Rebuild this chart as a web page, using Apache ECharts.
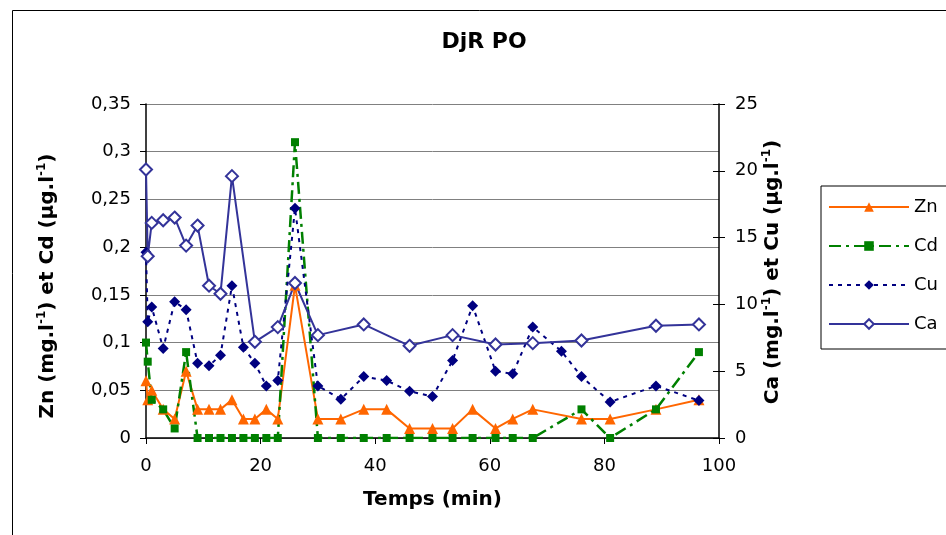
<!DOCTYPE html>
<html>
<head>
<meta charset="utf-8">
<script src="https://cdn.jsdelivr.net/npm/echarts@6/dist/echarts.min.js"></script>
<style>
html,body{margin:0;padding:0;background:#fff;}
#chart{width:946px;height:535px;}
</style>
</head>
<body>
<div id="chart"></div>
<script>
// temps (min) et valeurs
var timeZn = [0, 0.3, 1, 3, 5, 7, 9, 11, 13, 15, 17, 19, 21, 23, 26, 30, 34, 38, 42, 46, 50, 53.5, 57, 61, 64, 67.5, 76, 81, 89, 96.5];
var zn     = [0.06, 0.04, 0.05, 0.03, 0.02, 0.07, 0.03, 0.03, 0.03, 0.04, 0.02, 0.02, 0.03, 0.02, 0.16, 0.02, 0.02, 0.03, 0.03, 0.01, 0.01, 0.01, 0.03, 0.01, 0.02, 0.03, 0.02, 0.02, 0.03, 0.04];
var timeCd = [0, 0.3, 1, 3, 5, 7, 9, 11, 13, 15, 17, 19, 21, 23, 26, 30, 34, 38, 42, 46, 50, 53.5, 57, 61, 64, 67.5, 76, 81, 89, 96.5];
var cd     = [0.1, 0.08, 0.04, 0.03, 0.01, 0.09, 0, 0, 0, 0, 0, 0, 0, 0, 0.31, 0, 0, 0, 0, 0, 0, 0, 0, 0, 0, 0, 0.03, 0, 0.03, 0.09];
var timeCu = [0, 0.3, 1, 3, 5, 7, 9, 11, 13, 15, 17, 19, 21, 23, 26, 30, 34, 38, 42, 46, 50, 53.5, 57, 61, 64, 67.5, 72.5, 76, 81, 89, 96.5];
var cu     = [13.9, 8.7, 9.8, 6.7, 10.2, 9.6, 5.6, 5.4, 6.2, 11.4, 6.8, 5.6, 3.9, 4.3, 17.2, 3.9, 2.9, 4.6, 4.3, 3.5, 3.1, 5.8, 9.9, 5.0, 4.8, 8.3, 6.5, 4.6, 2.7, 3.9, 2.8];
var timeCa = [0, 0.3, 1, 3, 5, 7, 9, 11, 13, 15, 19, 23, 26, 30, 38, 46, 53.5, 61, 67.5, 76, 89, 96.5];
var ca     = [20.1, 13.6, 16.1, 16.3, 16.5, 14.4, 15.9, 11.4, 10.8, 19.6, 7.2, 8.3, 11.6, 7.7, 8.5, 6.9, 7.7, 7.0, 7.1, 7.3, 8.4, 8.5];

function pairs(t, v){
	var out=[];
	for(var i=0;i<t.length;i++){ out.push([t[i], v[i]]); }
	return out;
}

var font = 'DejaVu Sans, sans-serif';
// titre d'axe avec exposants
var supRich = {
	b:{fontFamily:font, fontSize:20, fontWeight:'bold', color:'#000', lineHeight:24},
	s:{fontFamily:font, fontSize:12, fontWeight:'bold', color:'#000', lineHeight:12, verticalAlign:'top'}
};
function axisTitle(x, y, txt){
	return {
		type:'text', x:x, y:y, rotation:Math.PI/2,
		style:{text:txt, rich:supRich, align:'center', verticalAlign:'middle', fill:'#000'}
	};
}

var chart = echarts.init(document.getElementById('chart'));
var option = {
	backgroundColor:'#fff',
	animation:false,
	textStyle:{fontFamily:font},
	graphic:[
		{type:'rect', z:-10, shape:{x:12.5, y:10.5, width:1000, height:1000}, style:{fill:'none', stroke:'#000', lineWidth:1}},
		{type:'text', x:484, y:42, style:{text:'DjR PO', fontFamily:font, fontSize:22, fontWeight:'bold', fill:'#000', align:'center', verticalAlign:'middle'}},
		axisTitle(48, 286, '{b|Zn (mg.l}{s|-1}{b|) et Cd (µg.l}{s|-1}{b|)}'),
		axisTitle(773, 272, '{b|Ca (mg.l}{s|-1}{b|) et Cu (µg.l}{s|-1}{b|)}')
	],
	legend:{
		orient:'vertical',
		left:821,
		top:186,
		itemWidth:80,
		itemHeight:12,
		itemGap:21,
		padding:[12, 200, 16, 7],
		borderColor:'#000',
		borderWidth:1,
		textStyle:{fontSize:18, color:'#000', fontFamily:font},
		data:['Zn', 'Cd', 'Cu', 'Ca']
	},
	grid:{left:146, right:227, top:104, bottom:97},
	xAxis:{
		type:'value',
		min:0, max:100, interval:20,
		name:'Temps (min)',
		nameLocation:'middle',
		nameGap:52,
		nameTextStyle:{fontSize:20, fontWeight:'bold', color:'#000', fontFamily:font},
		axisLine:{lineStyle:{color:'#000', width:1.5}},
		axisTick:{length:6, lineStyle:{color:'#000'}},
		axisLabel:{fontSize:18, color:'#000', margin:19},
		splitLine:{show:false}
	},
	yAxis:[
		{
			type:'value',
			min:0, max:0.35, interval:0.05,
			axisLine:{show:true, lineStyle:{color:'#000', width:1.5}},
			axisTick:{show:true, length:6, lineStyle:{color:'#000'}},
			axisLabel:{fontSize:18, color:'#000', margin:15,
				formatter:function(v){ return String(+v.toFixed(2)).replace('.', ','); }},
			splitLine:{show:true, lineStyle:{color:'#808080', width:1}}
		},
		{
			type:'value',
			position:'right',
			min:0, max:25, interval:5,
			axisLine:{show:true, lineStyle:{color:'#000', width:1.5}},
			axisTick:{show:true, length:6, lineStyle:{color:'#000'}},
			axisLabel:{fontSize:18, color:'#000', margin:16},
			splitLine:{show:false}
		},
		{
			type:'value',
			position:'right',
			min:0, max:25, interval:5,
			axisLine:{show:false},
			axisTick:{show:true, inside:true, length:6, lineStyle:{color:'#000'}},
			axisLabel:{show:false},
			splitLine:{show:false}
		}
	],
	series:[
		{
			name:'Zn',
			type:'line',
			yAxisIndex:0,
			data:pairs(timeZn, zn),
			symbol:'triangle',
			symbolSize:11,
			color:'#ff6600',
			lineStyle:{color:'#ff6600', width:2},
			itemStyle:{color:'#ff6600'}
		},
		{
			name:'Cd',
			type:'line',
			yAxisIndex:0,
			data:pairs(timeCd, cd),
			symbol:'rect',
			symbolSize:8,
			color:'#008000',
			lineStyle:{color:'#008000', width:2.5, type:[12, 5, 3, 5]},
			itemStyle:{color:'#008000'}
		},
		{
			name:'Cu',
			type:'line',
			yAxisIndex:1,
			data:pairs(timeCu, cu),
			symbol:'diamond',
			symbolSize:11,
			color:'#000080',
			lineStyle:{color:'#000080', width:2, type:[4, 5]},
			itemStyle:{color:'#000080'}
		},
		{
			name:'Ca',
			type:'line',
			yAxisIndex:1,
			data:pairs(timeCa, ca),
			symbol:'emptyDiamond',
			symbolSize:12,
			color:'#333399',
			lineStyle:{color:'#333399', width:2},
			itemStyle:{color:'#333399', borderWidth:1.5}
		}
	]
};
chart.setOption(option);
</script>
</body>
</html>
